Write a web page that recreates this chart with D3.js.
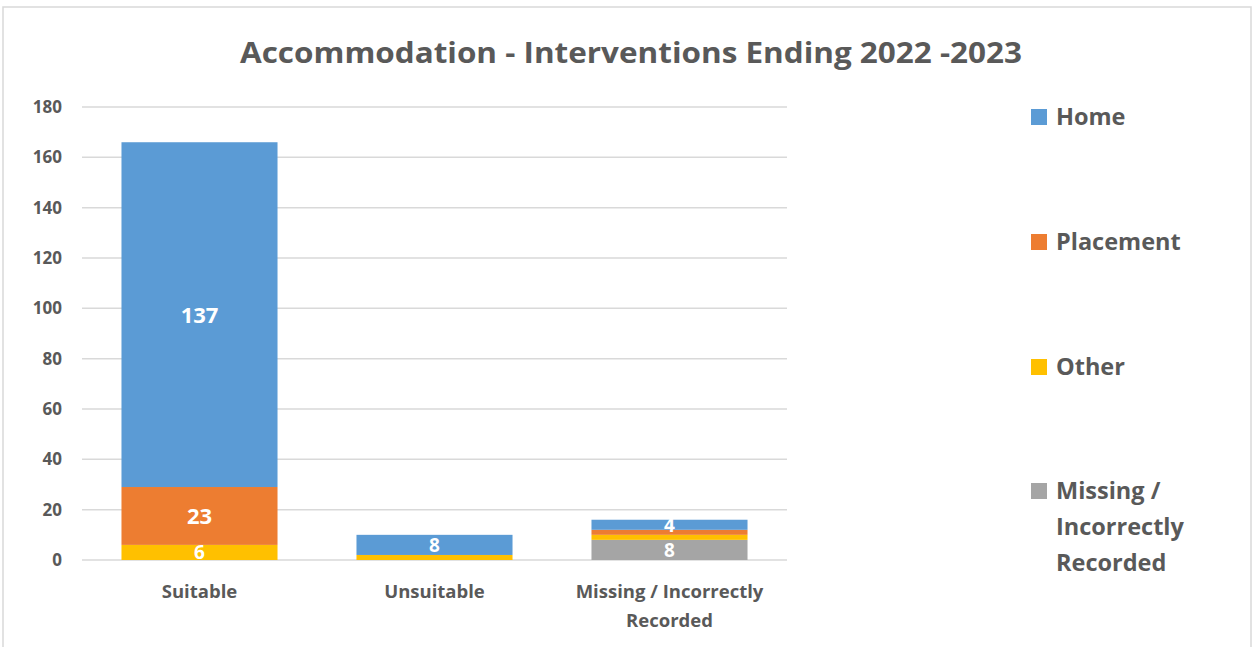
<!DOCTYPE html>
<html><head><meta charset="utf-8">
<script src="https://cdn.jsdelivr.net/npm/d3@7"></script>
<style>body{margin:0;background:#fff}svg{display:block}text{font-family:"Open Sans","Liberation Sans",sans-serif}</style>
</head><body><svg id="c" width="1253" height="647"></svg>
<script>
const categories = ["Suitable", "Unsuitable", "Missing / Incorrectly Recorded"];
const categoryLines = [["Suitable"], ["Unsuitable"], ["Missing / Incorrectly", "Recorded"]];
const seriesNames = ["Other", "Missing / Incorrectly Recorded", "Placement", "Home"];
const other = [6, 2, 2];
const missing = [0, 0, 8];
const placement = [23, 0, 2];
const home = [137, 8, 4];
const yTicks = [0, 20, 40, 60, 80, 100, 120, 140, 160, 180];
const legendNames = ["Home", "Placement", "Other", "Missing / Incorrectly Recorded"];
const legendLines = [["Home"], ["Placement"], ["Other"], ["Missing /", "Incorrectly", "Recorded"]];
const colors = {"Home": "#5b9bd5", "Placement": "#ed7d31", "Other": "#ffc000", "Missing / Incorrectly Recorded": "#a5a5a5"};

const stackOrder = ["Missing / Incorrectly Recorded", "Other", "Placement", "Home"];
const valuesBy = {"Home": home, "Placement": placement, "Other": other, "Missing / Incorrectly Recorded": missing};
const rows = categories.map((c, i) => {
  const r = {cat: c};
  stackOrder.forEach(s => r[s] = valuesBy[s][i]);
  return r;
});
const stacked = d3.stack().keys(stackOrder)(rows);

const svg = d3.select("#c");
svg.append("rect").attr("x", 3).attr("y", 7).attr("width", 1248).attr("height", 645)
  .attr("fill", "#fff").attr("stroke", "#d9d9d9").attr("stroke-width", 1.5);

const x = d3.scaleBand().domain(categories).range([82, 787]).paddingInner(0.336).paddingOuter(0.168);
const y = d3.scaleLinear().domain([0, 180]).range([560, 107]);

svg.append("g").selectAll("line").data(yTicks).join("line")
  .attr("x1", 82).attr("x2", 787).attr("y1", d => y(d)).attr("y2", d => y(d))
  .attr("stroke", "#d9d9d9").attr("stroke-width", 1.5);

const yAxis = d3.axisLeft(y).tickValues(yTicks).tickSize(0).tickPadding(20);
const ga = svg.append("g").attr("transform", "translate(82,0)").call(yAxis);
ga.select(".domain").remove();
ga.selectAll("text").attr("font-size", 17).attr("font-weight", "bold").attr("fill", "#595959")
  .attr("font-family", "'Open Sans','Liberation Sans',sans-serif");

const gs = svg.append("g").selectAll("g").data(stacked).join("g").attr("fill", d => colors[d.key]);
gs.selectAll("rect").data(d => d.map(v => ({v, key: d.key}))).join("rect")
  .attr("x", d => x(d.v.data.cat)).attr("width", x.bandwidth())
  .attr("y", d => y(d.v[1])).attr("height", d => y(d.v[0]) - y(d.v[1]));

stacked.forEach(s => {
  s.forEach(v => {
    const val = v[1] - v[0];
    if (val >= 4) {
      const small = (y(v[0]) - y(v[1])) < 22;
      svg.append("text").attr("x", x(v.data.cat) + x.bandwidth() / 2)
        .attr("y", (y(v[0]) + y(v[1])) / 2).attr("dy", "0.36em")
        .attr("text-anchor", "middle").attr("fill", "#fff").attr("font-size", small ? 19 : 22).attr("font-weight", "bold")
        .text(val);
    }
  });
});

categories.forEach((c, i) => {
  categoryLines[i].forEach((ln, j) => {
    svg.append("text").attr("x", x(c) + x.bandwidth() / 2).attr("y", 598 + j * 29)
      .attr("text-anchor", "middle").attr("fill", "#595959").attr("font-size", 18.5).attr("font-weight", "bold")
      .text(ln);
  });
});

const t = svg.append("text").attr("x", 631).attr("y", 63).attr("text-anchor", "middle")
  .attr("fill", "#595959").attr("font-size", 29).attr("font-weight", "bold")
  .text("Accommodation - Interventions Ending 2022 -2023");
t.attr("textLength", 782).attr("lengthAdjust", "spacingAndGlyphs");

const legY = [117, 242, 367, 491];
legendNames.forEach((n, i) => {
  svg.append("rect").attr("x", 1031).attr("y", legY[i] - 8).attr("width", 16).attr("height", 16).attr("fill", colors[n]);
  legendLines[i].forEach((ln, j) => {
    svg.append("text").attr("x", 1056).attr("y", legY[i] + j * 36).attr("dy", "0.36em")
      .attr("fill", "#595959").attr("font-size", 23.5).attr("font-weight", "bold").text(ln);
  });
});
</script></body></html>
